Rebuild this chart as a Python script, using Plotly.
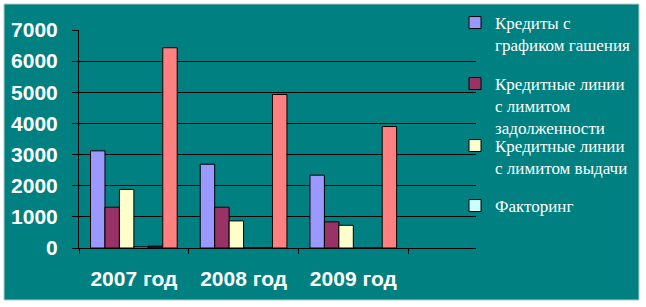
import plotly.graph_objects as go

categories = ["2007 год", "2008 год", "2009 год", " "]
series_names = [
    "Кредиты с<br>графиком гашения",
    "Кредитные линии<br>с лимитом<br>задолженности",
    "Кредитные линии<br>с лимитом выдачи",
    "Факторинг",
    "Прочее",
    "Итого",
]
credits_schedule = [3120, 2690, 2340, None]
lines_debt_limit = [1310, 1310, 840, None]
lines_issue_limit = [1880, 870, 730, None]
factoring = [40, 10, 0, None]
other = [60, 10, 0, None]
total = [6430, 4930, 3900, None]
y_ticks = [0, 1000, 2000, 3000, 4000, 5000, 6000, 7000]

colors = ["#9999FF", "#993366", "#FFFFCC", "#CCFFFF", "#660066", "#FF8080"]
values = [credits_schedule, lines_debt_limit, lines_issue_limit, factoring, other, total]
legend_ids = ["legend", "legend2", "legend3", "legend4", None, None]
legend_tops = [5, 66, 128, 188]  # pixel rows of each legend entry's top

W, H = 646, 307
L, R, T, B = 79, 646 - 476, 2, 2
pw, ph = W - L - R, H - T - B
AX_TOP, AX_BOT = 30, 248  # pixel rows of 7000 and 0


def py(pix):
    return (H - B - pix) / ph


fig = go.Figure()
for name, vals, col, lid in zip(series_names, values, colors, legend_ids):
    kw = dict(showlegend=False) if lid is None else dict(legend=lid)
    fig.add_trace(go.Bar(
        x=categories, y=vals, name=name,
        marker=dict(color=col, line=dict(color="#000000", width=1)), **kw,
    ))

teal = "#008080"
fig.add_shape(
    type="rect", xref="paper", yref="paper", layer="below",
    x0=(4 - L) / pw, x1=(639 - L) / pw,
    y0=py(300), y1=py(4),
    fillcolor=teal, line=dict(color="#b0cccc", width=1),
)

legend_font = dict(family="Liberation Serif, Times New Roman, serif", size=17, color="white")
legends = {}
for lid, top in zip(legend_ids[:4], legend_tops):
    legends[lid] = dict(
        x=(455 - L) / pw, xanchor="left", y=py(top), yanchor="top",
        bgcolor="rgba(0,0,0,0)", valign="top", itemwidth=30, font=legend_font,
    )

tickfont = dict(family="Liberation Sans, Arial", size=21, color="white", weight="bold")
fig.update_layout(
    width=W, height=H,
    margin=dict(l=L, r=R, t=T, b=B, autoexpand=False),
    paper_bgcolor="white", plot_bgcolor=teal,
    barmode="group", bargap=0.21, bargroupgap=0,
    showlegend=True,
    xaxis=dict(
        type="category", range=[-0.5, 2.5 + (476 - 408) / 110],
        tickson="boundaries", ticks="outside", ticklen=5, tickcolor="black",
        showline=True, linecolor="black", linewidth=1, showgrid=False,
        tickfont=tickfont, ticklabelstandoff=12, automargin=False,
    ),
    yaxis=dict(
        domain=[py(AX_BOT), py(AX_TOP)],
        range=[0, 7000], tickvals=y_ticks, ticks="outside", ticklen=6, tickcolor="black",
        showline=True, linecolor="black", linewidth=1,
        showgrid=True, gridcolor="black", gridwidth=1, zeroline=False,
        tickfont=tickfont, ticklabelstandoff=10, automargin=False,
    ),
    **legends,
)

fig.write_html("out.html")
